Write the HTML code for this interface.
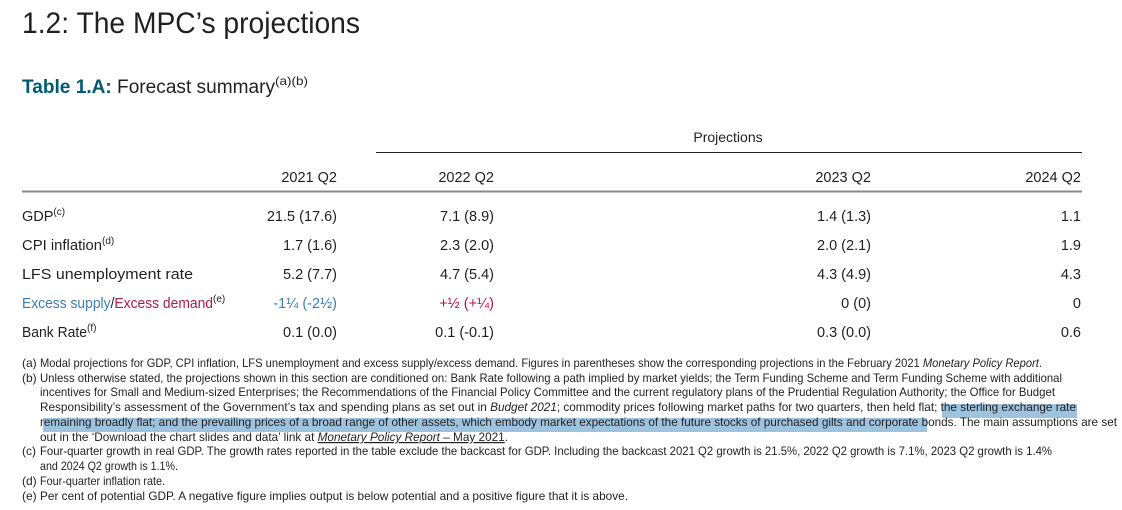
<!DOCTYPE html>
<html><head><meta charset="utf-8"><style>
html,body{margin:0;padding:0;background:#fff;}
svg{display:block;font-family:"Liberation Sans",sans-serif;}
</style></head><body>
<svg width="1122" height="510" viewBox="0 0 1122 510" xmlns="http://www.w3.org/2000/svg">
<g fill="#231f20">
<text x="22" y="33" font-size="30" textLength="338" lengthAdjust="spacingAndGlyphs">1.2:  The MPC’s projections</text>
<text x="22" y="93" font-size="19" textLength="253" lengthAdjust="spacingAndGlyphs"><tspan fill="#005a70" font-weight="bold">Table 1.A:</tspan> Forecast summary</text>
<text x="275" y="85" font-size="12" textLength="33" lengthAdjust="spacingAndGlyphs">(a)(b)</text>

<text x="728" y="142" font-size="14" text-anchor="middle">Projections</text>
<line x1="376" y1="152.5" x2="1082" y2="152.5" stroke="#231f20" stroke-width="1"/>
<g font-size="14.5" text-anchor="end">
<text x="337" y="182">2021 Q2</text>
<text x="494" y="182">2022 Q2</text>
<text x="871" y="182">2023 Q2</text>
<text x="1081" y="182">2024 Q2</text>
</g>
<line x1="22" y1="191.5" x2="1082" y2="191.5" stroke="#888" stroke-width="2"/>

<g font-size="14.5">
<text x="22" y="221">GDP<tspan font-size="10" dy="-6">(c)</tspan></text>
<text x="22" y="250" textLength="80" lengthAdjust="spacingAndGlyphs">CPI inflation</text><text x="102" y="244" font-size="10">(d)</text>
<text x="22" y="279" textLength="171" lengthAdjust="spacingAndGlyphs">LFS unemployment rate</text>
<text x="22" y="308" textLength="191" lengthAdjust="spacingAndGlyphs"><tspan fill="#3a7db5">Excess supply</tspan>/<tspan fill="#b2184a">Excess demand</tspan></text><text x="213" y="302" font-size="10">(e)</text>
<text x="22" y="337" textLength="65" lengthAdjust="spacingAndGlyphs">Bank Rate</text><text x="87" y="331" font-size="10">(f)</text>
</g>
<g font-size="14.5" text-anchor="end">
<text x="337" y="221">21.5 (17.6)</text><text x="494" y="221">7.1 (8.9)</text><text x="871" y="221">1.4 (1.3)</text><text x="1081" y="221">1.1</text>
<text x="337" y="250">1.7 (1.6)</text><text x="494" y="250">2.3 (2.0)</text><text x="871" y="250">2.0 (2.1)</text><text x="1081" y="250">1.9</text>
<text x="337" y="279">5.2 (7.7)</text><text x="494" y="279">4.7 (5.4)</text><text x="871" y="279">4.3 (4.9)</text><text x="1081" y="279">4.3</text>
<text x="337" y="308" fill="#3a7db5">-1¼ (-2½)</text><text x="494" y="308" fill="#b2184a">+½ (+¼)</text><text x="871" y="308">0 (0)</text><text x="1081" y="308">0</text>
<text x="337" y="337">0.1 (0.0)</text><text x="494" y="337">0.1 (-0.1)</text><text x="871" y="337">0.3 (0.0)</text><text x="1081" y="337">0.6</text>
</g>

<rect x="942" y="404" width="135" height="14" fill="#9ec3de"/>
<rect x="43" y="418" width="884" height="14" fill="#9ec3de"/>

<g font-size="12">
<text x="22" y="367">(a)</text><text x="22" y="382">(b)</text><text x="22" y="455">(c)</text><text x="22" y="485">(d)</text><text x="22" y="500">(e)</text>
<text x="40" y="367" textLength="1002" lengthAdjust="spacingAndGlyphs">Modal projections for GDP, CPI inflation, LFS unemployment and excess supply/excess demand. Figures in parentheses show the corresponding projections in the February 2021 <tspan font-style="italic">Monetary Policy Report</tspan>.</text>
<text x="40" y="382" textLength="1022" lengthAdjust="spacingAndGlyphs">Unless otherwise stated, the projections shown in this section are conditioned on: Bank Rate following a path implied by market yields; the Term Funding Scheme and Term Funding Scheme with additional</text>
<text x="40" y="396" textLength="1015" lengthAdjust="spacingAndGlyphs">incentives for Small and Medium-sized Enterprises; the Recommendations of the Financial Policy Committee and the current regulatory plans of the Prudential Regulation Authority; the Office for Budget</text>
<text x="40" y="411" textLength="1036" lengthAdjust="spacingAndGlyphs">Responsibility’s assessment of the Government’s tax and spending plans as set out in <tspan font-style="italic">Budget 2021</tspan>; commodity prices following market paths for two quarters, then held flat; the sterling exchange rate</text>
<text x="40" y="426" textLength="1077" lengthAdjust="spacingAndGlyphs">remaining broadly flat; and the prevailing prices of a broad range of other assets, which embody market expectations of the future stocks of purchased gilts and corporate bonds. The main assumptions are set</text>
<text x="40" y="441" textLength="468" lengthAdjust="spacingAndGlyphs">out in the ‘Download the chart slides and data’ link at <tspan font-style="italic" text-decoration="underline">Monetary Policy Report</tspan><tspan text-decoration="underline"> – May 2021</tspan>.</text>
<text x="40" y="455" textLength="1012" lengthAdjust="spacingAndGlyphs">Four-quarter growth in real GDP. The growth rates reported in the table exclude the backcast for GDP. Including the backcast 2021 Q2 growth is 21.5%, 2022 Q2 growth is 7.1%, 2023 Q2 growth is 1.4%</text>
<text x="40" y="470" textLength="138" lengthAdjust="spacingAndGlyphs">and 2024 Q2 growth is 1.1%.</text>
<text x="40" y="485" textLength="125" lengthAdjust="spacingAndGlyphs">Four-quarter inflation rate.</text>
<text x="40" y="500" textLength="588" lengthAdjust="spacingAndGlyphs">Per cent of potential GDP. A negative figure implies output is below potential and a positive figure that it is above.</text>
</g>
</g>
</svg>
</body></html>
